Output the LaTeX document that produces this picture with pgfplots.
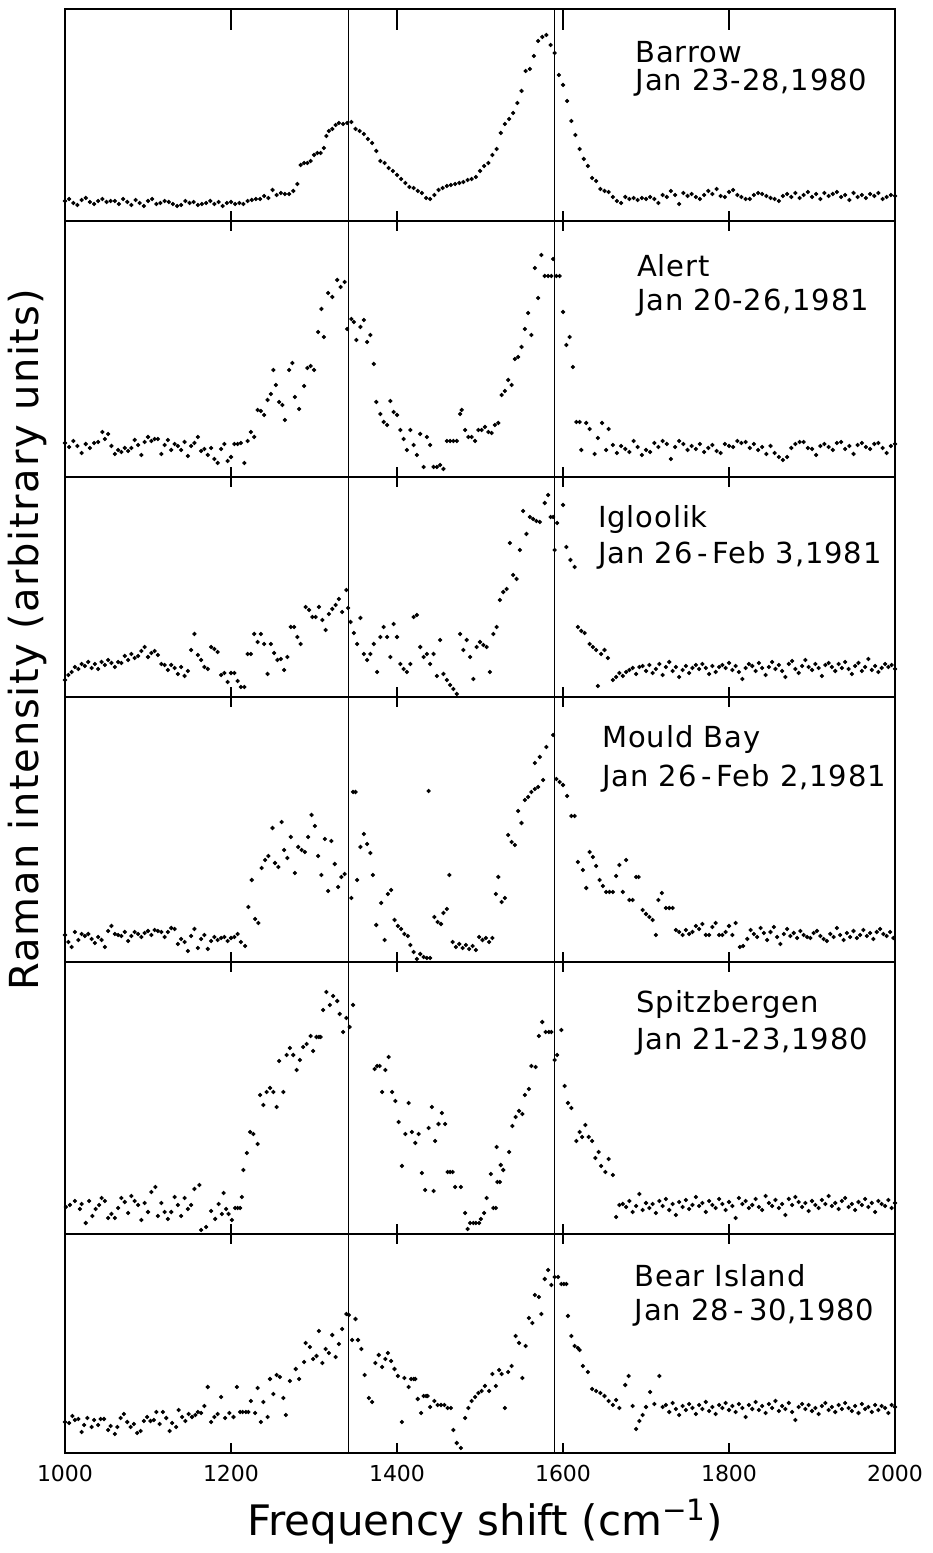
\documentclass[border=0pt]{standalone}
\usepackage{fontspec}
\setmainfont{DejaVu Sans}
\newfontfamily\ylabfont[LetterSpace=4]{DejaVu Sans}
\newfontfamily\sitefont[LetterSpace=3]{DejaVu Sans}
\usepackage{pgfplots}
\pgfplotsset{compat=1.18}

\pgfplotsset{
  panel/.style={
    scale only axis, width=415pt, anchor=south west,
    xmin=1000, xmax=2000, ymin=0,
    xtick={1200,1400,1600,1800}, xticklabels={},
    ytick=\empty, xtick pos=both,
    tick align=inside, major tick length=5pt,
    axis line style={line width=0.9pt},
    every tick/.style={black, line width=0.6pt},
  },
  dots/.style={only marks, mark=*, mark size=0.85pt, black},
}
\tikzset{sitelab/.style={anchor=west, inner sep=0pt, font=\sitefont\fontsize{14.5}{16}\selectfont}}
\newcommand{\reflines}{%
  \draw[line width=0.45pt] (rel axis cs:0.342,0) -- (rel axis cs:0.342,1);
  \draw[line width=0.45pt] (rel axis cs:0.590,0) -- (rel axis cs:0.590,1);}

\begin{document}
\begin{tikzpicture}
\path[use as bounding box] (0,0) rectangle (466pt,776.5pt);

% Barrow
\begin{axis}[panel, at={(32.5pt,666pt)}, height=106pt, ymax=212]
\addplot[dots] table[row sep=\\] {
1000 20\\1005 22\\1010 18\\1015 16\\1020 21\\1025 23\\1030 19\\1035 17\\1040 20\\1045 22\\1050 19\\1055 20\\1060 20\\1065 17\\1070 22\\1075 19\\1080 16\\1085 21\\1090 18\\1095 15\\1100 20\\1105 22\\1110 17\\1115 18\\1120 20\\1125 19\\1130 17\\1135 15\\1140 16\\1145 20\\1150 18\\1155 19\\1160 16\\1165 17\\1170 18\\1175 20\\1180 17\\1185 19\\1190 15\\1195 18\\1200 19\\1205 17\\1210 18\\1215 17\\1220 20\\1225 21\\1230 22\\1235 22\\1240 25\\1245 23\\1250 31\\1255 26\\1260 28\\1265 27\\1270 27\\1275 30\\1280 37\\1284 56\\1288 58\\1292 58\\1296 60\\1300 66\\1304 68\\1308 68\\1312 73\\1315 85\\1318 90\\1322 92\\1326 96\\1330 98\\1335 97\\1340 98\\1345 99\\1350 92\\1355 90\\1360 87\\1365 82\\1370 78\\1375 70\\1380 60\\1385 58\\1390 53\\1395 50\\1400 46\\1405 42\\1410 38\\1415 34\\1420 33\\1425 30\\1430 28\\1435 23\\1440 22\\1445 26\\1450 31\\1455 33\\1460 35\\1465 36\\1470 37\\1475 38\\1480 39\\1485 41\\1490 42\\1495 44\\1500 50\\1505 55\\1510 58\\1515 66\\1520 72\\1525 88\\1530 97\\1535 102\\1540 108\\1545 118\\1550 130\\1555 150\\1560 152\\1565 165\\1570 180\\1575 184\\1580 186\\1585 176\\1590 168\\1595 146\\1600 136\\1605 120\\1610 100\\1615 86\\1620 72\\1625 62\\1630 55\\1635 43\\1640 40\\1645 32\\1650 30\\1655 29\\1660 24\\1665 20\\1670 18\\1675 24\\1680 22\\1685 23\\1690 21\\1695 23\\1700 22\\1705 24\\1710 22\\1715 18\\1720 26\\1725 24\\1730 30\\1735 26\\1740 17\\1745 28\\1750 25\\1755 27\\1760 24\\1765 22\\1770 26\\1775 30\\1780 27\\1785 32\\1790 25\\1795 24\\1800 29\\1805 31\\1810 26\\1815 24\\1820 22\\1825 22\\1830 26\\1835 28\\1840 27\\1845 25\\1850 23\\1855 22\\1860 20\\1865 25\\1870 27\\1875 24\\1880 28\\1885 23\\1890 26\\1895 29\\1900 24\\1905 27\\1910 22\\1915 28\\1920 25\\1925 27\\1930 29\\1935 24\\1940 26\\1945 21\\1950 28\\1955 24\\1960 26\\1965 23\\1970 27\\1975 25\\1980 28\\1985 22\\1990 24\\1995 26\\2000 25\\
};
\reflines
\draw[line width=0.6pt] (axis cs:1200,212) -- (axis cs:1200,191);
\draw[line width=0.6pt] (axis cs:1400,212) -- (axis cs:1400,191);
\draw[line width=0.6pt] (axis cs:1600,212) -- (axis cs:1600,191);
\draw[line width=0.6pt] (axis cs:1800,212) -- (axis cs:1800,191);
\node[sitelab] at (rel axis cs:0.687,0.797) {Barrow};
\node[sitelab] at (rel axis cs:0.687,0.651) {Jan 23-28,1980};
\end{axis}

% Alert
\begin{axis}[panel, at={(32.5pt,538pt)}, height=128pt, ymax=256]
\addplot[dots] table[row sep=\\] {
1000 34\\1005 30\\1010 36\\1015 31\\1020 24\\1025 33\\1030 29\\1035 34\\1040 35\\1045 45\\1048 38\\1052 43\\1056 31\\1060 23\\1064 27\\1068 25\\1072 29\\1076 26\\1080 29\\1084 37\\1088 32\\1092 22\\1096 35\\1100 40\\1104 36\\1108 38\\1112 38\\1116 23\\1120 32\\1124 37\\1128 27\\1132 33\\1136 31\\1140 27\\1144 35\\1148 21\\1152 31\\1156 34\\1160 40\\1164 26\\1168 28\\1172 22\\1176 29\\1180 18\\1184 14\\1188 28\\1192 33\\1196 16\\1200 20\\1204 33\\1208 33\\1212 34\\1216 14\\1220 36\\1224 45\\1228 40\\1232 67\\1236 66\\1240 62\\1244 77\\1248 83\\1251 107\\1254 92\\1258 75\\1262 72\\1265 57\\1270 107\\1274 114\\1277 80\\1282 68\\1288 91\\1292 109\\1296 111\\1300 107\\1305 145\\1309 168\\1312 140\\1317 184\\1322 180\\1328 197\\1332 190\\1337 195\\1340 148\\1345 158\\1348 155\\1351 137\\1356 150\\1360 157\\1364 135\\1368 142\\1372 113\\1375 75\\1380 63\\1384 55\\1388 52\\1392 76\\1396 65\\1400 62\\1404 47\\1408 38\\1412 27\\1416 47\\1420 32\\1424 22\\1428 43\\1432 10\\1436 40\\1440 32\\1444 10\\1448 10\\1452 12\\1456 8\\1460 36\\1464 36\\1468 36\\1472 36\\1476 63\\1478 67\\1482 47\\1486 40\\1490 40\\1494 36\\1498 47\\1502 47\\1506 50\\1510 45\\1514 44\\1518 52\\1522 54\\1526 82\\1530 86\\1534 97\\1538 92\\1542 118\\1546 120\\1550 130\\1554 148\\1558 164\\1562 142\\1566 209\\1570 179\\1574 222\\1578 201\\1582 201\\1586 201\\1588 218\\1592 201\\1596 201\\1600 165\\1604 132\\1608 140\\1612 110\\1616 55\\1620 55\\1622 27\\1628 54\\1632 48\\1638 23\\1642 39\\1647 54\\1652 27\\1655 48\\1660 32\\1665 24\\1670 31\\1675 28\\1680 25\\1685 36\\1690 30\\1695 22\\1700 27\\1705 25\\1710 34\\1715 30\\1720 36\\1725 33\\1730 18\\1735 30\\1740 36\\1745 33\\1750 27\\1755 31\\1760 28\\1765 33\\1770 25\\1775 29\\1780 32\\1785 26\\1790 24\\1795 33\\1800 31\\1805 30\\1810 36\\1815 34\\1820 35\\1825 29\\1830 33\\1835 27\\1840 30\\1845 23\\1850 31\\1855 24\\1860 20\\1865 17\\1870 20\\1875 29\\1880 33\\1885 35\\1890 35\\1895 29\\1900 28\\1905 22\\1910 31\\1915 33\\1920 30\\1925 27\\1930 34\\1935 35\\1940 28\\1945 31\\1950 23\\1955 32\\1960 34\\1965 30\\1970 28\\1975 33\\1980 34\\1985 29\\1990 24\\1995 31\\2000 33\\
};
\reflines
\node[sitelab] at (rel axis cs:0.689,0.824) {Alert};
\node[sitelab] at (rel axis cs:0.689,0.680) {Jan 20-26,1981};
\end{axis}

% Igloolik
\begin{axis}[panel, at={(32.5pt,428pt)}, height=110pt, ymax=220]
\addplot[dots] table[row sep=\\] {
1000 17\\1004 22\\1008 25\\1012 30\\1016 28\\1020 33\\1024 31\\1028 35\\1032 29\\1036 33\\1040 28\\1044 35\\1048 32\\1052 37\\1056 34\\1060 30\\1064 35\\1068 34\\1072 41\\1076 37\\1080 43\\1084 39\\1088 41\\1092 46\\1096 50\\1100 40\\1104 44\\1108 46\\1112 42\\1116 33\\1120 32\\1124 27\\1128 32\\1132 29\\1136 23\\1140 30\\1144 21\\1148 26\\1152 47\\1156 63\\1160 42\\1164 37\\1168 30\\1172 28\\1176 50\\1180 48\\1184 45\\1188 22\\1192 24\\1196 15\\1200 24\\1204 24\\1208 16\\1212 10\\1216 10\\1220 43\\1224 43\\1228 63\\1232 55\\1236 63\\1240 53\\1244 23\\1248 53\\1252 44\\1256 37\\1260 38\\1264 27\\1268 40\\1272 70\\1276 70\\1280 60\\1284 53\\1290 90\\1294 87\\1298 80\\1302 80\\1306 90\\1310 77\\1314 67\\1318 83\\1322 88\\1326 92\\1330 98\\1334 85\\1339 107\\1341 89\\1344 75\\1348 64\\1352 53\\1356 79\\1360 43\\1364 37\\1368 43\\1372 53\\1376 25\\1380 60\\1384 70\\1388 60\\1392 40\\1396 73\\1400 60\\1404 33\\1408 28\\1412 25\\1416 33\\1420 80\\1424 82\\1428 50\\1432 40\\1436 43\\1440 33\\1444 43\\1448 21\\1452 57\\1456 23\\1460 17\\1464 12\\1468 8\\1472 3\\1476 63\\1480 47\\1484 57\\1488 40\\1492 18\\1496 50\\1500 55\\1504 52\\1508 50\\1512 25\\1516 63\\1520 70\\1524 97\\1528 105\\1532 108\\1536 154\\1540 122\\1544 118\\1548 147\\1552 186\\1556 163\\1560 180\\1564 178\\1568 176\\1572 175\\1578 194\\1582 202\\1585 180\\1588 180\\1590 147\\1593 174\\1600 192\\1604 150\\1609 137\\1614 130\\1618 70\\1622 66\\1626 64\\1632 53\\1636 50\\1640 47\\1642 11\\1646 43\\1650 47\\1654 39\\1660 17\\1664 20\\1668 24\\1672 21\\1676 25\\1680 27\\1684 29\\1688 23\\1692 30\\1696 31\\1700 26\\1704 32\\1708 24\\1712 28\\1716 33\\1720 22\\1724 30\\1728 35\\1732 26\\1736 30\\1740 20\\1744 27\\1748 31\\1752 24\\1756 29\\1760 32\\1764 28\\1768 33\\1772 29\\1776 23\\1780 31\\1784 25\\1788 30\\1792 32\\1796 29\\1800 34\\1804 27\\1808 31\\1812 25\\1816 18\\1820 29\\1824 33\\1828 31\\1832 26\\1836 34\\1840 29\\1844 22\\1848 30\\1852 35\\1856 28\\1860 32\\1864 26\\1868 20\\1872 33\\1876 36\\1880 28\\1884 24\\1888 31\\1892 37\\1896 30\\1900 27\\1904 33\\1908 29\\1912 21\\1916 32\\1920 34\\1924 30\\1928 26\\1932 33\\1936 29\\1940 35\\1944 28\\1948 23\\1952 31\\1956 34\\1960 26\\1964 30\\1968 38\\1972 27\\1976 31\\1980 25\\1984 29\\1988 33\\1992 30\\1996 32\\2000 28\\
};
\reflines
\node[sitelab] at (rel axis cs:0.642,0.809) {Igloolik};
\node[sitelab] at (rel axis cs:0.642,0.645) {Jan 26\,-\,Feb 3,1981};
\end{axis}

% Mould Bay
\begin{axis}[panel, at={(32.5pt,295.5pt)}, height=132.5pt, ymax=265]
\addplot[dots] table[row sep=\\] {
1000 27\\1004 20\\1008 15\\1012 30\\1016 22\\1020 28\\1024 26\\1028 28\\1032 23\\1036 19\\1040 25\\1044 22\\1048 15\\1052 31\\1056 36\\1060 28\\1064 27\\1068 26\\1072 30\\1076 21\\1080 26\\1084 30\\1088 28\\1092 25\\1096 29\\1100 31\\1104 27\\1108 32\\1112 31\\1116 30\\1120 25\\1124 30\\1128 34\\1132 33\\1136 18\\1140 23\\1144 20\\1148 11\\1152 26\\1156 33\\1160 14\\1164 23\\1168 27\\1172 13\\1176 21\\1180 25\\1184 22\\1188 24\\1192 25\\1196 21\\1200 24\\1204 25\\1208 28\\1212 20\\1217 16\\1221 55\\1225 82\\1229 43\\1233 39\\1237 94\\1241 102\\1245 106\\1250 134\\1253 99\\1257 95\\1261 140\\1264 112\\1268 104\\1272 125\\1277 89\\1281 115\\1285 112\\1289 110\\1293 125\\1297 147\\1301 136\\1305 106\\1309 87\\1313 123\\1317 71\\1321 121\\1325 98\\1329 75\\1333 85\\1337 88\\1345 64\\1347 170\\1350 170\\1352 82\\1356 115\\1360 128\\1364 118\\1368 109\\1371 87\\1375 37\\1381 59\\1385 22\\1389 68\\1393 72\\1397 42\\1401 36\\1405 33\\1409 28\\1413 26\\1416 17\\1420 10\\1424 3\\1428 8\\1432 5\\1436 4\\1438 171\\1440 4\\1445 45\\1449 40\\1453 38\\1456 49\\1460 53\\1463 87\\1467 20\\1471 15\\1475 18\\1479 14\\1483 17\\1487 13\\1491 16\\1495 12\\1499 25\\1503 22\\1507 24\\1511 20\\1515 24\\1519 68\\1522 85\\1526 60\\1530 64\\1534 127\\1538 120\\1542 117\\1546 151\\1550 139\\1554 162\\1558 165\\1562 170\\1566 173\\1570 175\\1566 199\\1572 205\\1576 182\\1580 215\\1588 227\\1592 183\\1596 180\\1600 177\\1605 166\\1610 146\\1614 146\\1618 100\\1624 92\\1628 74\\1632 110\\1636 105\\1640 96\\1644 82\\1648 76\\1652 70\\1656 70\\1660 70\\1664 86\\1668 97\\1672 70\\1676 102\\1680 62\\1684 62\\1688 85\\1691 85\\1696 52\\1700 48\\1704 45\\1708 42\\1712 27\\1715 62\\1719 69\\1724 54\\1728 54\\1732 54\\1736 32\\1740 30\\1744 27\\1748 32\\1752 28\\1756 30\\1760 36\\1764 33\\1768 38\\1772 27\\1776 27\\1780 35\\1784 39\\1788 27\\1792 27\\1796 30\\1800 36\\1804 27\\1808 39\\1813 15\\1817 16\\1822 23\\1826 32\\1830 28\\1834 25\\1838 34\\1842 29\\1846 22\\1850 30\\1854 35\\1858 25\\1862 18\\1866 28\\1870 33\\1874 26\\1878 29\\1882 24\\1886 31\\1890 27\\1894 25\\1898 24\\1902 29\\1906 31\\1910 26\\1914 23\\1918 21\\1922 28\\1926 25\\1930 34\\1934 27\\1938 22\\1942 29\\1946 25\\1950 31\\1954 24\\1958 27\\1962 32\\1966 26\\1970 29\\1974 23\\1978 30\\1982 33\\1986 28\\1990 26\\1994 30\\1998 24\\
};
\reflines
\node[sitelab] at (rel axis cs:0.647,0.838) {Mould Bay};
\node[sitelab] at (rel axis cs:0.647,0.694) {Jan 26\,-\,Feb 2,1981};
\end{axis}

% Spitzbergen
\begin{axis}[panel, at={(32.5pt,159.5pt)}, height=136pt, ymax=272]
\addplot[dots] table[row sep=\\] {
1001 27\\1006 29\\1012 33\\1018 25\\1020 30\\1025 11\\1029 33\\1033 18\\1037 25\\1041 29\\1044 36\\1048 33\\1052 16\\1056 20\\1060 16\\1064 26\\1068 36\\1072 32\\1076 21\\1080 38\\1084 33\\1088 29\\1092 14\\1096 31\\1100 22\\1104 42\\1109 47\\1112 18\\1116 31\\1120 22\\1124 15\\1128 22\\1132 37\\1136 29\\1140 18\\1144 36\\1148 25\\1152 29\\1156 45\\1162 49\\1164 4\\1170 7\\1176 23\\1181 15\\1185 30\\1189 20\\1191 41\\1194 25\\1197 20\\1201 14\\1205 26\\1208 26\\1211 26\\1213 37\\1215 64\\1219 81\\1223 102\\1227 100\\1232 90\\1235 139\\1239 129\\1243 142\\1247 146\\1251 142\\1255 127\\1258 173\\1263 142\\1267 179\\1271 186\\1275 179\\1279 164\\1283 174\\1287 187\\1291 190\\1296 198\\1299 183\\1303 197\\1306 197\\1308 197\\1311 224\\1315 242\\1319 229\\1323 238\\1328 233\\1331 220\\1335 202\\1339 216\\1343 207\\1347 229\\1373 165\\1376 168\\1379 168\\1382 142\\1386 164\\1390 177\\1394 142\\1398 133\\1402 112\\1406 68\\1410 100\\1414 131\\1418 102\\1422 91\\1426 100\\1430 61\\1434 44\\1438 106\\1442 127\\1444 43\\1446 93\\1450 110\\1454 121\\1458 110\\1461 62\\1464 62\\1467 62\\1470 47\\1477 47\\1482 21\\1485 5\\1488 11\\1492 11\\1495 11\\1499 11\\1501 15\\1505 21\\1508 36\\1513 60\\1516 26\\1519 26\\1521 52\\1524 52\\1520 87\\1525 69\\1528 64\\1535 82\\1539 108\\1543 117\\1547 123\\1551 120\\1554 139\\1559 145\\1562 168\\1567 167\\1571 198\\1575 212\\1579 202\\1583 202\\1586 202\\1590 174\\1593 179\\1598 204\\1602 148\\1606 131\\1610 126\\1616 93\\1620 102\\1623 97\\1627 109\\1631 97\\1635 93\\1639 76\\1643 82\\1646 68\\1651 62\\1655 75\\1660 59\\1664 17\\1668 29\\1672 30\\1676 27\\1680 33\\1684 22\\1688 28\\1692 40\\1696 24\\1700 31\\1704 26\\1708 30\\1712 21\\1716 33\\1720 28\\1724 35\\1728 24\\1732 30\\1736 19\\1740 32\\1744 27\\1748 34\\1752 25\\1756 29\\1760 37\\1764 28\\1768 31\\1772 22\\1776 33\\1780 29\\1784 26\\1788 35\\1792 30\\1796 24\\1800 32\\1804 28\\1808 16\\1812 36\\1816 30\\1820 33\\1824 26\\1828 29\\1832 35\\1836 27\\1840 24\\1844 38\\1848 31\\1852 28\\1856 34\\1860 26\\1864 30\\1868 19\\1872 35\\1876 29\\1880 37\\1884 32\\1888 27\\1892 31\\1896 23\\1900 33\\1904 29\\1908 26\\1912 34\\1916 30\\1920 38\\1924 28\\1928 31\\1932 25\\1936 33\\1940 36\\1944 27\\1948 30\\1952 24\\1956 32\\1960 29\\1964 35\\1968 27\\1972 31\\1976 22\\1980 33\\1984 30\\1988 28\\1992 34\\1996 26\\2000 31\\
};
\reflines
\node[sitelab] at (rel axis cs:0.688,0.842) {Spitzbergen};
\node[sitelab] at (rel axis cs:0.688,0.706) {Jan 21-23,1980};
\end{axis}

% Bear Island
\begin{axis}[panel, at={(32.5pt,50pt)}, height=109.5pt, ymax=219,
  xtick={1000,1200,...,2000},
  xticklabels={1000,1200,1400,1600,1800,2000},
  xtick pos=both, xticklabel pos=bottom,
  xticklabel style={font=\fontsize{11}{13}\selectfont, yshift=-2.5pt}]
\addplot[dots] table[row sep=\\] {
1000 31\\1005 30\\1009 37\\1012 33\\1016 34\\1020 21\\1023 28\\1027 35\\1032 26\\1035 33\\1040 28\\1043 34\\1047 34\\1052 23\\1055 27\\1060 19\\1063 26\\1067 35\\1071 39\\1075 31\\1079 26\\1083 29\\1087 20\\1091 22\\1095 32\\1099 36\\1103 32\\1107 33\\1110 41\\1114 29\\1118 41\\1122 35\\1126 22\\1129 30\\1134 26\\1137 43\\1141 36\\1145 32\\1149 39\\1153 36\\1157 38\\1160 41\\1164 40\\1168 47\\1172 66\\1176 31\\1180 36\\1184 39\\1188 56\\1193 35\\1198 40\\1203 36\\1207 66\\1211 41\\1214 41\\1218 41\\1221 41\\1224 52\\1229 40\\1232 65\\1236 31\\1239 51\\1244 36\\1247 74\\1251 59\\1255 78\\1259 76\\1263 55\\1266 38\\1271 72\\1278 84\\1282 74\\1288 91\\1290 110\\1295 106\\1299 94\\1303 97\\1306 122\\1310 90\\1314 104\\1318 100\\1322 118\\1326 96\\1330 109\\1334 124\\1339 139\\1342 138\\1346 113\\1350 134\\1353 113\\1357 104\\1361 78\\1366 55\\1370 51\\1374 90\\1378 98\\1382 86\\1386 94\\1389 100\\1393 92\\1397 84\\1401 77\\1406 31\\1409 75\\1414 66\\1417 74\\1420 74\\1422 74\\1425 54\\1429 40\\1432 57\\1435 57\\1437 57\\1440 46\\1445 52\\1449 48\\1453 48\\1457 48\\1461 45\\1465 45\\1468 23\\1472 10\\1477 5\\1482 35\\1486 45\\1490 52\\1494 56\\1498 60\\1502 62\\1506 67\\1511 62\\1515 79\\1519 67\\1523 83\\1526 79\\1530 45\\1534 81\\1538 87\\1543 117\\1547 110\\1551 75\\1555 107\\1559 135\\1563 130\\1566 158\\1571 156\\1574 139\\1578 174\\1582 183\\1586 168\\1590 176\\1594 176\\1598 169\\1601 169\\1604 169\\1606 137\\1610 117\\1614 107\\1618 105\\1620 103\\1624 87\\1630 81\\1635 64\\1640 62\\1645 60\\1650 57\\1655 52\\1660 48\\1664 53\\1668 45\\1675 68\\1679 77\\1684 47\\1688 24\\1692 32\\1696 38\\1700 46\\1705 61\\1710 49\\1716 77\\1720 46\\1724 48\\1728 41\\1732 50\\1736 44\\1740 38\\1744 47\\1748 43\\1752 49\\1756 45\\1760 39\\1764 48\\1768 44\\1772 51\\1776 42\\1780 46\\1784 39\\1788 48\\1792 45\\1796 50\\1800 43\\1804 47\\1808 41\\1812 49\\1816 45\\1820 36\\1824 48\\1828 44\\1832 51\\1836 43\\1840 47\\1844 40\\1848 49\\1852 45\\1856 52\\1860 42\\1864 47\\1868 44\\1872 50\\1876 41\\1880 33\\1884 46\\1888 49\\1892 44\\1896 48\\1900 42\\1904 45\\1908 39\\1912 47\\1916 50\\1920 43\\1924 46\\1928 41\\1932 48\\1936 44\\1940 50\\1944 45\\1948 42\\1952 47\\1956 40\\1960 49\\1964 44\\1968 46\\1972 41\\1976 48\\1980 43\\1984 47\\1988 45\\1992 40\\1996 48\\2000 46\\
};
\reflines
\node[sitelab] at (rel axis cs:0.686,0.808) {Bear Island};
\node[sitelab] at (rel axis cs:0.686,0.639) {Jan 28\,-\,30,1980};
\end{axis}

\node[rotate=90, font=\ylabfont\fontsize{20}{22}\selectfont] at (13.5pt,456.5pt) {Raman intensity (arbitrary units)};
\node[font=\fontsize{21}{24}\selectfont] at (242.5pt,15.5pt) {Frequency shift (cm\textsuperscript{−1})};
\end{tikzpicture}
\end{document}
